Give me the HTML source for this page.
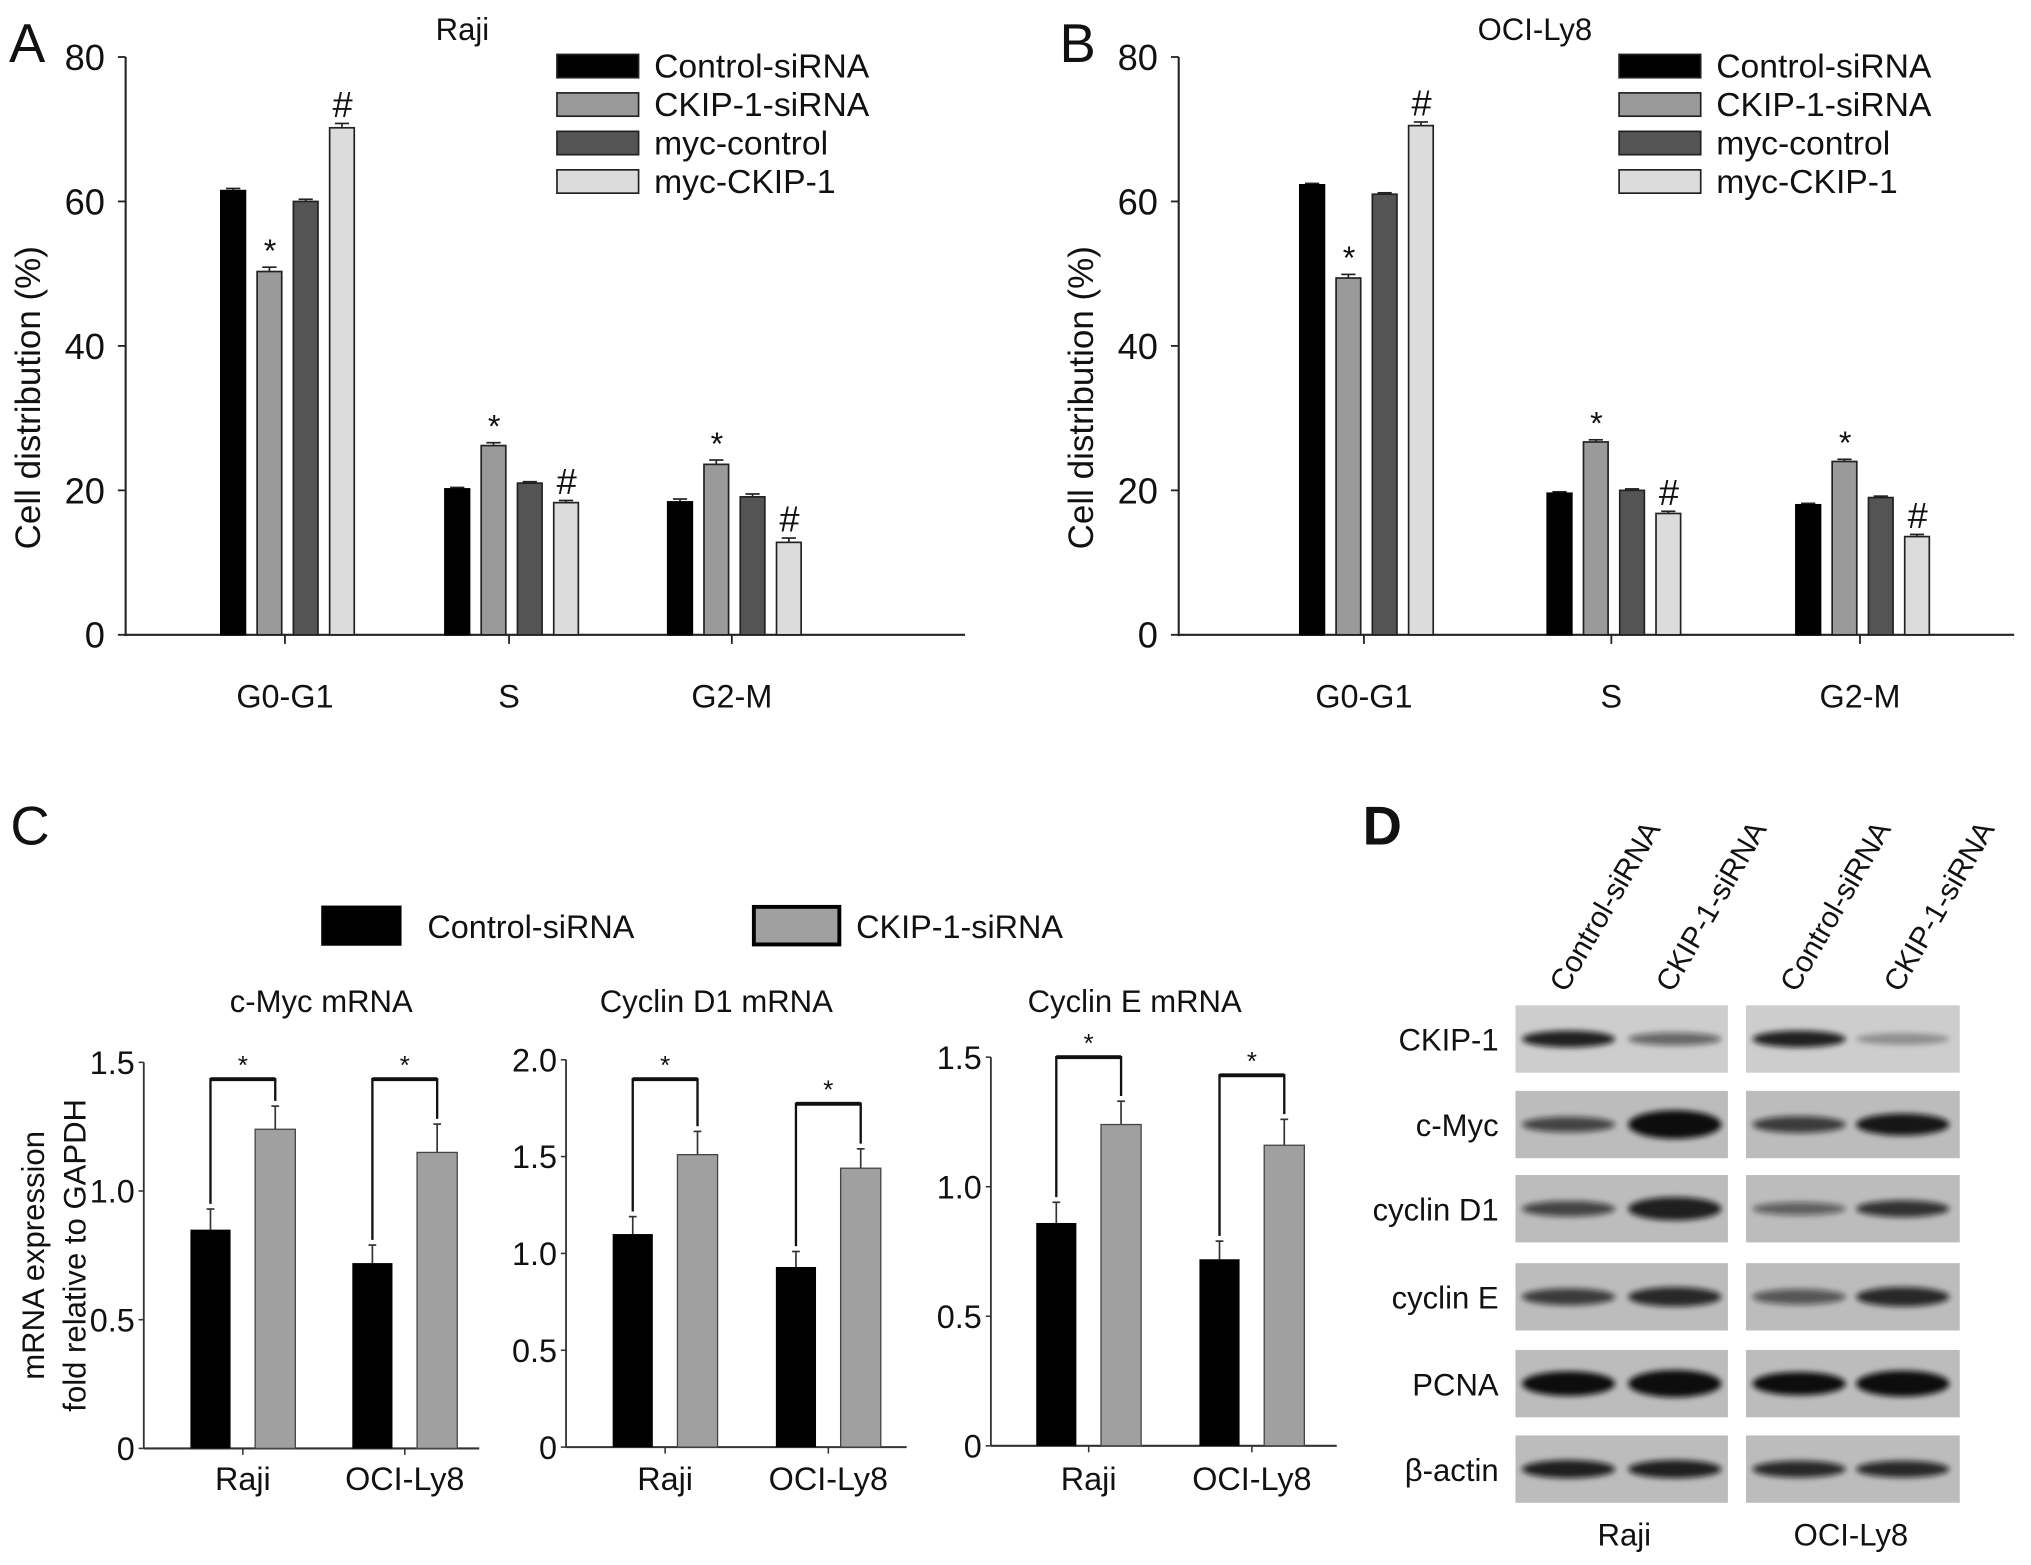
<!DOCTYPE html>
<html><head><meta charset="utf-8"><style>
html,body{margin:0;padding:0;background:#fff}
svg{display:block}
text{font-family:"Liberation Sans",sans-serif;fill:#111}
</style></head><body>
<svg id="fig" width="2031" height="1565" viewBox="0 0 1568 1208" preserveAspectRatio="none" xmlns="http://www.w3.org/2000/svg">
<defs><filter id="blur" x="-20%" y="-50%" width="140%" height="200%"><feGaussianBlur stdDeviation="2.2"/></filter></defs>
<rect width="1568" height="1208" fill="#fff"/>
<g id="gA"></g>
<g id="gB"></g>
<g id="gC"></g>
<g id="gD"></g>
</svg>
<script>
// Panels A/B data
const cycleCats = ["G0-G1","S","G2-M"];
const cycleSeries = ["Control-siRNA","CKIP-1-siRNA","myc-control","myc-CKIP-1"];
const rajiCycle = [[61.5,50.3,60,70.2],[20.2,26.2,21,18.3],[18.4,23.6,19.1,12.8]];
const rajiErr = [[0.3,0.6,0.3,0.6],[0.2,0.4,0.2,0.3],[0.4,0.6,0.4,0.6]];
const ociCycle = [[62.3,49.4,61,70.5],[19.6,26.7,20,16.8],[18,24,19,13.6]];
const ociErr = [[0.2,0.5,0.2,0.5],[0.2,0.3,0.2,0.3],[0.2,0.3,0.2,0.3]];
const cycleTicks = [0,20,40,60,80];
const cycleMarks = ["","*","","#"];
// Panel C data
const mrnaCats = ["Raji","OCI-Ly8"];
const mycCtrl = [0.85,0.72], mycCtrlErr=[0.08,0.07], mycKd=[1.24,1.15], mycKdErr=[0.09,0.11];
const d1Ctrl = [1.10,0.93], d1CtrlErr=[0.09,0.08], d1Kd=[1.51,1.44], d1KdErr=[0.12,0.10];
const eCtrl = [0.86,0.72], eCtrlErr=[0.08,0.07], eKd=[1.24,1.16], eKdErr=[0.09,0.10];
const ticks15 = [0,0.5,1.0,1.5];
const ticks20 = [0,0.5,1.0,1.5,2.0];

const NS="http://www.w3.org/2000/svg";
function el(parent,tag,attrs,txt){const e=document.createElementNS(NS,tag);for(const k in attrs)e.setAttribute(k,attrs[k]);if(txt!==undefined)e.textContent=txt;parent.appendChild(e);return e;}

const fills=["#000","#9a9a9a","#545454","#dcdcdc"];
function cyclePanel(g,o){
  const y=v=>o.y0-(v/80)*(o.y0-o.y80);
  el(g,'line',{x1:o.ax,y1:o.y80,x2:o.ax,y2:o.y0+1,stroke:'#222','stroke-width':1.6});
  el(g,'line',{x1:o.ax,y1:o.y0,x2:o.xend,y2:o.y0,stroke:'#222','stroke-width':1.6});
  cycleTicks.forEach(t=>{
    el(g,'line',{x1:o.ax-6,y1:y(t),x2:o.ax,y2:y(t),stroke:'#222','stroke-width':1.4});
    const tl=el(g,'text',{x:o.ax-16,y:y(t)+10,'text-anchor':'end','font-size':28},String(t));
    
    
  });
  const yl=el(g,'text',{x:0,y:0,'text-anchor':'middle','font-size':27,transform:`translate(${o.ax-66},${(o.y0+o.y80)/2+40}) rotate(-90)`},"Cell distribution (%)");
  
  const tt=el(g,'text',{x:o.titleX,y:31,'text-anchor':'middle','font-size':24},o.title);
  
  const lt=el(g,'text',{x:o.letterX,y:48,'font-size':42},o.letter);
  
  const offs=[-40,-12,16,44];
  cycleCats.forEach((c,i)=>{
    const cx=o.centers[i];
    el(g,'line',{x1:cx,y1:o.y0,x2:cx,y2:o.y0+7,stroke:'#222','stroke-width':1.4});
    const xl=el(g,'text',{x:cx,y:o.y0+56,'text-anchor':'middle','font-size':25},c);
    
    cycleSeries.forEach((s,j)=>{
      const v=o.data[i][j],e=o.err[i][j],bx=cx+offs[j]-9.5;
      el(g,'line',{x1:bx+4,y1:y(v+e),x2:bx+15,y2:y(v+e),stroke:'#222','stroke-width':1.3});
      el(g,'line',{x1:bx+9.5,y1:y(v+e),x2:bx+9.5,y2:y(v),stroke:'#222','stroke-width':1.3});
      const b=el(g,'rect',{x:bx,y:y(v),width:19,height:y(0)-y(v),fill:fills[j],stroke:j==0?'#000':'#222','stroke-width':1.3});
      
      
      if(cycleMarks[j]){
        const m=el(g,'text',{x:bx+10,y:y(v+e)-(cycleMarks[j]=='*'?4:5),'text-anchor':'middle','font-size':cycleMarks[j]=='*'?25:28},cycleMarks[j]);
        
      }
    });
  });
  cycleSeries.forEach((s,j)=>{
    const ly=42+j*29.7;
    const lb=el(g,'rect',{x:o.legX,y:ly,width:63,height:18,fill:fills[j],stroke:'#222','stroke-width':1.3});
    
    const lt2=el(g,'text',{x:o.legX+75,y:ly+18,'font-size':26},s);
    
  });
}
cyclePanel(document.getElementById('gA'),{ax:97,y0:490,y80:44,xend:745,centers:[220,393,565],data:rajiCycle,err:rajiErr,title:"Raji",titleX:357,letter:"A",letterX:7,legX:430});
cyclePanel(document.getElementById('gB'),{ax:910,y0:490,y80:44,xend:1555,centers:[1053,1244,1436],data:ociCycle,err:ociErr,title:"OCI-Ly8",titleX:1185,letter:"B",letterX:818,legX:1250});

// Panel C
const gC=document.getElementById('gC');
{const t=el(gC,'text',{x:8,y:652,'font-size':42},"C");}
{const r=el(gC,'rect',{x:248,y:699,width:62,height:31,fill:'#000'});
 const t=el(gC,'text',{x:330,y:724,'font-size':25},"Control-siRNA");
 const r2=el(gC,'rect',{x:582,y:700,width:66,height:29,fill:'#a0a0a0',stroke:'#000','stroke-width':3});
 const t2=el(gC,'text',{x:661,y:724,'font-size':25},"CKIP-1-siRNA");}
{const t=el(gC,'text',{x:0,y:0,'text-anchor':'middle','font-size':24,transform:'translate(34,969) rotate(-90)'},"mRNA expression");
 const t2=el(gC,'text',{x:0,y:0,'text-anchor':'middle','font-size':24,transform:'translate(66,969) rotate(-90)'},"fold relative to GAPDH");}
function mrnaPanel(o){
  const g=el(gC,'g',{});
  
  const top=o.ticks[o.ticks.length-1];
  const y=v=>o.y0-(v/top)*(o.y0-o.ytop);
  el(g,'line',{x1:o.ax,y1:o.ytop,x2:o.ax,y2:o.y0,stroke:'#333','stroke-width':1.4});
  el(g,'line',{x1:o.ax,y1:o.y0,x2:o.xend,y2:o.y0,stroke:'#333','stroke-width':1.6});
  o.ticks.forEach(t=>{
    el(g,'line',{x1:o.ax-4,y1:y(t),x2:o.ax,y2:y(t),stroke:'#333','stroke-width':1.2});
    const l=el(g,'text',{x:o.ax-7,y:y(t)+9,'text-anchor':'end','font-size':25},t===0?"0":t.toFixed(1));
    
  });
  const tt=el(g,'text',{x:o.titleX,y:781,'text-anchor':'middle','font-size':24},o.title);
  
  mrnaCats.forEach((c,i)=>{
    const bx=o.bx[i];
    const vc=o.ctrl[i],ec=o.ctrlErr[i],vk=o.kd[i],ek=o.kdErr[i];
    const cc=bx+15.5,kc=bx+65.5;
    el(g,'line',{x1:cc,y1:y(vc),x2:cc,y2:y(vc+ec),stroke:'#333','stroke-width':1.3});
    el(g,'line',{x1:cc-3,y1:y(vc+ec),x2:cc+3,y2:y(vc+ec),stroke:'#333','stroke-width':1.3});
    el(g,'line',{x1:kc,y1:y(vk),x2:kc,y2:y(vk+ek),stroke:'#333','stroke-width':1.3});
    el(g,'line',{x1:kc-3,y1:y(vk+ek),x2:kc+3,y2:y(vk+ek),stroke:'#333','stroke-width':1.3});
    const b1=el(g,'rect',{x:bx,y:y(vc),width:31,height:y(0)-y(vc),fill:'#000'});
    
    const b2=el(g,'rect',{x:bx+50,y:y(vk),width:31,height:y(0)-y(vk),fill:'#a0a0a0',stroke:'#444','stroke-width':1});
    
    el(g,'line',{x1:(cc+kc)/2,y1:o.y0,x2:(cc+kc)/2,y2:o.y0+5,stroke:'#333','stroke-width':1.2});
    const by=o.brY[i];
    const br=el(g,'polyline',{points:`${cc},${y(vc+ec)-4} ${cc},${by} ${kc},${by} ${kc},${y(vk+ek)-4}`,fill:'none',stroke:'#111','stroke-width':1.8});
    
    el(g,'rect',{x:cc,y:by-1.5,width:kc-cc,height:3,fill:'#111'});
    const s=el(g,'text',{x:(cc+kc)/2,y:by-4,'text-anchor':'middle','font-size':20},"*");
    
    const xl=el(g,'text',{x:(cc+kc)/2,y:1150,'text-anchor':'middle','font-size':25},c);
    
  });
}
mrnaPanel({name:'c-myc-chart',ax:111,xend:370,y0:1118,ytop:820,ticks:ticks15,title:"c-Myc mRNA",titleX:248,bx:[147,272],ctrl:mycCtrl,ctrlErr:mycCtrlErr,kd:mycKd,kdErr:mycKdErr,brY:[833,833]});
mrnaPanel({name:'cyclin-d1-chart',ax:437,xend:700,y0:1117,ytop:818,ticks:ticks20,title:"Cyclin D1 mRNA",titleX:553,bx:[473,599],ctrl:d1Ctrl,ctrlErr:d1CtrlErr,kd:d1Kd,kdErr:d1KdErr,brY:[833,852]});
mrnaPanel({name:'cyclin-e-chart',ax:765,xend:1032,y0:1116,ytop:816,ticks:ticks15,title:"Cyclin E mRNA",titleX:876,bx:[800,926],ctrl:eCtrl,ctrlErr:eCtrlErr,kd:eKd,kdErr:eKdErr,brY:[816,830]});

// Panel D (western blot)
const gD=document.getElementById('gD');
{const t=el(gD,'text',{x:1052,y:652,'font-size':42,'font-weight':'bold'},"D");}
const blotRows=["CKIP-1","c-Myc","cyclin D1","cyclin E","PCNA","β-actin"];
const rowTops=[776,842,907,975,1042,1108];
const bandStrength=[[0.9,0.55,0.9,0.3],[0.7,1.0,0.75,0.95],[0.7,0.9,0.55,0.8],[0.75,0.85,0.6,0.85],[1.0,1.0,1.0,1.0],[0.9,0.9,0.85,0.85]];
const bandThick=[[9,6,9,5],[8,18,9,13],[8,14,6,9],[9,11,8,11],[15,17,14,16],[10,10,9,9]];
const lanes=[1211,1293,1389,1469];
blotRows.forEach((r,i)=>{
  const t=rowTops[i];
  const l=el(gD,'text',{x:1157,y:t+35,'text-anchor':'end','font-size':24},r);
  
  [[1170,164],[1348,165]].forEach(([x,w],k)=>{
    const bg=el(gD,'rect',{x:x,y:t,width:w,height:52,fill:i==0?'#cdcdcd':'#bcbcbc'});
    
    [0,1].forEach(q=>{
      const li=k*2+q,s=bandStrength[i][li],h=bandThick[i][li];
      const b=el(gD,'ellipse',{cx:lanes[li],cy:t+26,rx:36,ry:h/2+2,fill:'#111','fill-opacity':s,filter:'url(#blur)'});
      
    });
  });
});
["Control-siRNA","CKIP-1-siRNA","Control-siRNA","CKIP-1-siRNA"].forEach((s,i)=>{
  const t=el(gD,'text',{x:0,y:0,'font-size':23,transform:`translate(${lanes[i]-2},${767}) rotate(-60)`},s);
  
});
[["Raji",1254],["OCI-Ly8",1429]].forEach(([s,x])=>{
  const t=el(gD,'text',{x:x,y:1193,'text-anchor':'middle','font-size':24},s);
  
});
</script>
</body></html>
